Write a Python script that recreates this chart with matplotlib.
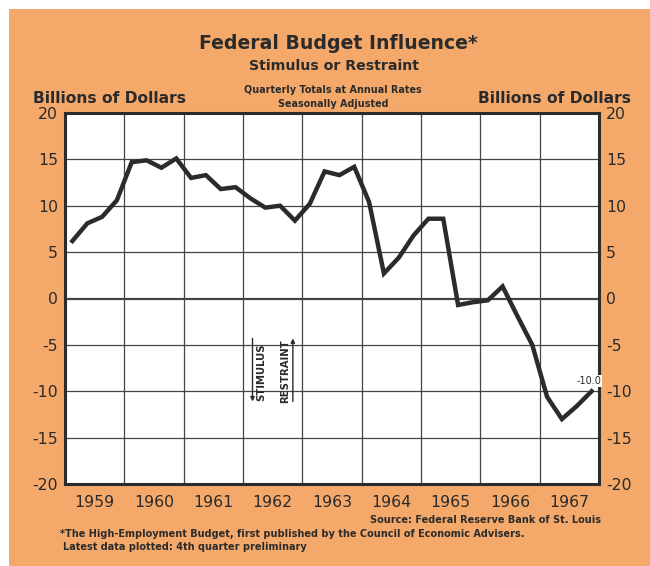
import numpy as np
import matplotlib
matplotlib.use("Agg")
import matplotlib.pyplot as plt
from matplotlib.patches import Rectangle

# quarterly values, 1959 Q1 .. 1967 Q4 (billions of dollars, annual rates)
YEARS = [1959, 1960, 1961, 1962, 1963, 1964, 1965, 1966, 1967]
VALUES = [6.2, 8.1, 8.8, 10.6,
          14.7, 14.9, 14.1, 15.1,
          13.0, 13.3, 11.8, 12.0,
          10.8, 9.8, 10.0, 8.4,
          10.2, 13.7, 13.3, 14.2,
          10.4, 2.7, 4.4, 6.8,
          8.6, 8.6, -0.7, -0.4,
          -0.2, 1.3, -1.9, -5.0,
          -10.6, -13.0, -11.6, -10.0]
Y_TICKS = [20, 15, 10, 5, 0, -5, -10, -15, -20]
LAST_LABEL = "-10.0"

W, H = 650, 566
ORANGE = "#F4A96B"
INK = "#2b2b2b"
plt.rcParams["font.family"] = ["DejaVu Sans"]


def fx(px):
    return px / W


def fy(py):
    return 1 - py / H


fig = plt.figure(figsize=(W / 100, H / 100), dpi=100)
fig.patch.set_facecolor("white")
fig.patches.append(Rectangle((fx(9), 0), 1, fy(9), transform=fig.transFigure,
                             facecolor=ORANGE, edgecolor="none", zorder=-10))

ax = fig.add_axes([fx(65), fy(484), 534 / W, 371 / H])
ax.set_facecolor("white")

x = np.array([YEARS[0] + (k + 0.5) / 4 for k in range(len(VALUES))])
ax.plot(x, VALUES, color=INK, lw=3.2, solid_joinstyle="miter", zorder=3)

ax.set_xlim(YEARS[0], YEARS[-1] + 1)
ax.set_ylim(-20, 20)
for yr in YEARS[1:]:
    ax.axvline(yr, color="#444444", lw=0.9, zorder=1)
for t in Y_TICKS[1:-1]:
    ax.axhline(t, color="#444444", lw=1.6 if t == 0 else 0.9, zorder=1)
for s in ax.spines.values():
    s.set_linewidth(2.2)
    s.set_color(INK)

ax.set_xticks([yr + 0.5 for yr in YEARS])
ax.set_xticklabels([str(yr) for yr in YEARS])
ax.set_yticks(Y_TICKS)
ax.set_yticklabels([str(t) for t in Y_TICKS])
ax.tick_params(length=0, labelsize=11.3, colors=INK)
ax.tick_params(axis="x", pad=8)
ax.tick_params(axis="y", labelright=True, right=False, pad=5)

ax.text(x[-1] - 0.05, VALUES[-1] + 1.1, LAST_LABEL, fontsize=7, color=INK, ha="center",
        va="center", bbox=dict(facecolor="white", edgecolor="none", pad=0.5), zorder=4)

# stimulus / restraint markers
ax.text(1962.30, -7.9, "STIMULUS", rotation=90, fontsize=7.3, fontweight="bold", color=INK,
        ha="center", va="center")
ax.text(1962.71, -7.8, "RESTRAINT", rotation=90, fontsize=7.3, fontweight="bold", color=INK,
        ha="center", va="center")
ax.annotate("", xy=(1962.16, -11.4), xytext=(1962.16, -4.0),
            arrowprops=dict(arrowstyle="-|>", color=INK, lw=1.0, mutation_scale=6))
ax.annotate("", xy=(1962.84, -4.0), xytext=(1962.84, -11.4),
            arrowprops=dict(arrowstyle="-|>", color=INK, lw=1.0, mutation_scale=6))

bold = dict(fontweight="bold", color=INK, va="baseline")
fig.text(fx(338), fy(49), "Federal Budget Influence*", fontsize=13.6, ha="center", **bold)
fig.text(fx(334), fy(70), "Stimulus or Restraint", fontsize=10.2, ha="center", **bold)
fig.text(fx(333), fy(93), "Quarterly Totals at Annual Rates", fontsize=6.9, ha="center", **bold)
fig.text(fx(333), fy(107), "Seasonally Adjusted", fontsize=6.9, ha="center", **bold)
fig.text(fx(33), fy(103), "Billions of Dollars", fontsize=11.2, ha="left", **bold)
fig.text(fx(631), fy(103), "Billions of Dollars", fontsize=11.2, ha="right", **bold)

fig.text(fx(601), fy(523), "Source: Federal Reserve Bank of St. Louis", fontsize=7.0,
         ha="right", **bold)
fig.text(fx(60), fy(537),
         "*The High-Employment Budget, first published by the Council of Economic Advisers.",
         fontsize=7.0, ha="left", **bold)
fig.text(fx(63), fy(550), "Latest data plotted: 4th quarter preliminary", fontsize=7.0,
         ha="left", **bold)

fig.savefig("out.png", dpi=100, facecolor=fig.get_facecolor())
